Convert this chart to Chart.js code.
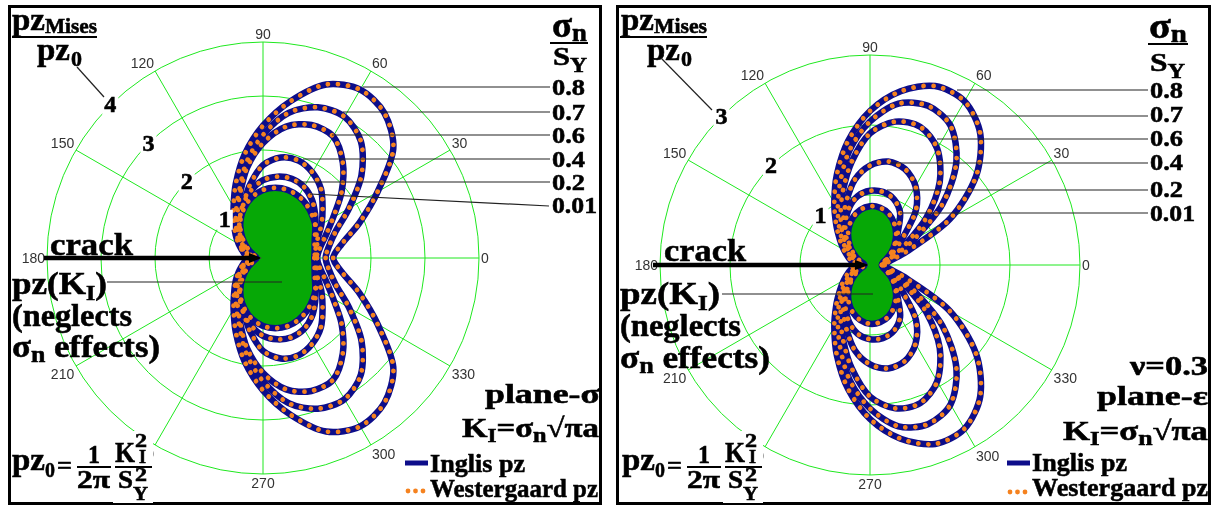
<!DOCTYPE html>
<html>
<head>
<meta charset="utf-8">
<script src="https://cdn.jsdelivr.net/npm/chart.js@4.4.1/dist/chart.umd.min.js"></script>
<style>
  body { margin: 0; background: #fff; }
  #page { position: relative; width: 1212px; height: 506px; overflow: hidden; background: #fff; }
  .box { position: absolute; border: 3px solid #000; box-sizing: content-box; }
  canvas { position: absolute; }
  svg.ann { position: absolute; left: 0; top: 0; }
  svg.ann text { font-family: 'Liberation Serif', 'Times New Roman', serif; font-weight: bold; fill: #000; stroke: #000; stroke-width: 0.55px; }
  svg.ann line.lead { stroke: #222; stroke-width: 1.2; }
</style>
</head>
<body>
<div id="page">
  <div class="box" style="left:8px;top:5px;width:588px;height:494px"></div>
  <div class="box" style="left:616px;top:5px;width:589px;height:494px"></div>
  <canvas id="planeStress" width="588" height="494" style="left:11px;top:8px"></canvas>
  <canvas id="planeStrain" width="589" height="494" style="left:619px;top:8px"></canvas>

  <svg class="ann" width="1212" height="506">
    <!-- ===== plane stress panel ===== -->
    <text x="12" y="30" font-size="32" textLength="33" lengthAdjust="spacingAndGlyphs">pz</text>
    <text x="45" y="33" font-size="20" textLength="52" lengthAdjust="spacingAndGlyphs">Mises</text>
    <line x1="12" y1="37" x2="97" y2="37" stroke="#000" stroke-width="2"/>
    <text x="37" y="60" font-size="32" textLength="33" lengthAdjust="spacingAndGlyphs">pz</text>
    <text x="71" y="66" font-size="22" textLength="11" lengthAdjust="spacingAndGlyphs">0</text>
    <line class="lead" x1="77" y1="67" x2="104" y2="97"/>

    <text x="552" y="37" font-size="36" textLength="35" lengthAdjust="spacingAndGlyphs">σ<tspan font-size="26" dy="4">n</tspan></text>
    <line x1="550" y1="43" x2="588" y2="43" stroke="#000" stroke-width="2"/>
    <text x="553" y="65" font-size="26" textLength="34" lengthAdjust="spacingAndGlyphs">S<tspan font-size="20" dy="7">Y</tspan></text>

    <line class="lead" x1="363" y1="87" x2="550" y2="87"/>
    <line class="lead" x1="343" y1="112" x2="550" y2="112"/>
    <line class="lead" x1="332" y1="135" x2="550" y2="135"/>
    <line class="lead" x1="303" y1="159" x2="550" y2="159"/>
    <line class="lead" x1="297" y1="182" x2="550" y2="182"/>
    <line class="lead" x1="310" y1="194" x2="549" y2="206"/>
    <text x="552" y="95" font-size="24" textLength="33" lengthAdjust="spacingAndGlyphs">0.8</text>
    <text x="552" y="120" font-size="24" textLength="33" lengthAdjust="spacingAndGlyphs">0.7</text>
    <text x="552" y="143" font-size="24" textLength="33" lengthAdjust="spacingAndGlyphs">0.6</text>
    <text x="552" y="167" font-size="24" textLength="33" lengthAdjust="spacingAndGlyphs">0.4</text>
    <text x="552" y="190" font-size="24" textLength="33" lengthAdjust="spacingAndGlyphs">0.2</text>
    <text x="552" y="213" font-size="24" textLength="45" lengthAdjust="spacingAndGlyphs">0.01</text>

    <text x="50" y="255" font-size="32" textLength="83" lengthAdjust="spacingAndGlyphs">crack</text>
    <line x1="44" y1="258" x2="252" y2="258" stroke="#000" stroke-width="4.5"/>
    <polygon points="249,253 262,258 249,263" fill="#000"/>
    <text x="12" y="294" font-size="31" textLength="95" lengthAdjust="spacingAndGlyphs">pz(K<tspan font-size="21" dy="6">I</tspan><tspan dy="-6">)</tspan></text>
    <line class="lead" x1="107" y1="282" x2="282" y2="282"/>
    <text x="12" y="326" font-size="31" textLength="120" lengthAdjust="spacingAndGlyphs">(neglects</text>
    <text x="12" y="357" font-size="31" textLength="148" lengthAdjust="spacingAndGlyphs">σ<tspan font-size="23" dy="5">n</tspan><tspan dy="-5"> effects)</tspan></text>

    <text x="485" y="403" font-size="27" textLength="115" lengthAdjust="spacingAndGlyphs">plane-σ</text>
    <text x="462" y="437" font-size="27" textLength="137" lengthAdjust="spacingAndGlyphs">K<tspan font-size="19" dy="5">I</tspan><tspan dy="-5">=σ</tspan><tspan font-size="20" dy="5">n</tspan><tspan dy="-5">√πa</tspan></text>
    <line x1="405" y1="463" x2="428" y2="463" stroke="#0d0d8a" stroke-width="5"/>
    <text x="430" y="472" font-size="26" textLength="95" lengthAdjust="spacingAndGlyphs">Inglis pz</text>
    <circle cx="408" cy="491" r="2.4" fill="#f5821f"/>
    <circle cx="415.5" cy="491" r="2.4" fill="#f5821f"/>
    <circle cx="423" cy="491" r="2.4" fill="#f5821f"/>
    <text x="430" y="497" font-size="26" textLength="168" lengthAdjust="spacingAndGlyphs">Westergaard pz</text>

    <rect x="113" y="431" width="40" height="72" fill="#fff"/>
    <text x="12" y="470" font-size="32" textLength="33" lengthAdjust="spacingAndGlyphs">pz</text>
    <text x="45" y="477" font-size="22" textLength="10" lengthAdjust="spacingAndGlyphs">0</text>
    <text x="57" y="474" font-size="26" textLength="15" lengthAdjust="spacingAndGlyphs">=</text>
    <text x="88" y="463" font-size="25" textLength="12" lengthAdjust="spacingAndGlyphs">1</text>
    <line x1="77" y1="467" x2="111" y2="467" stroke="#000" stroke-width="2"/>
    <text x="77" y="488" font-size="25" textLength="33" lengthAdjust="spacingAndGlyphs">2π</text>
    <text x="115" y="462" font-size="29" textLength="20" lengthAdjust="spacingAndGlyphs">K</text>
    <text x="135" y="447" font-size="18" textLength="12" lengthAdjust="spacingAndGlyphs">2</text>
    <text x="139" y="463" font-size="18" textLength="7" lengthAdjust="spacingAndGlyphs">I</text>
    <line x1="115" y1="467" x2="152" y2="467" stroke="#000" stroke-width="2"/>
    <text x="118" y="488" font-size="25" textLength="15" lengthAdjust="spacingAndGlyphs">S</text>
    <text x="135" y="481" font-size="18" textLength="12" lengthAdjust="spacingAndGlyphs">2</text>
    <text x="133" y="500" font-size="18" textLength="15" lengthAdjust="spacingAndGlyphs">Y</text>

    <!-- ===== plane strain panel ===== -->
    <text x="621" y="30" font-size="32" textLength="33" lengthAdjust="spacingAndGlyphs">pz</text>
    <text x="654" y="33" font-size="20" textLength="53" lengthAdjust="spacingAndGlyphs">Mises</text>
    <line x1="620" y1="37" x2="707" y2="37" stroke="#000" stroke-width="2"/>
    <text x="647" y="60" font-size="32" textLength="33" lengthAdjust="spacingAndGlyphs">pz</text>
    <text x="681" y="66" font-size="22" textLength="11" lengthAdjust="spacingAndGlyphs">0</text>
    <line class="lead" x1="661" y1="58" x2="712" y2="110"/>

    <text x="1149" y="38" font-size="36" textLength="38" lengthAdjust="spacingAndGlyphs">σ<tspan font-size="26" dy="4">n</tspan></text>
    <line x1="1148" y1="44" x2="1188" y2="44" stroke="#000" stroke-width="2"/>
    <text x="1150" y="71" font-size="26" textLength="35" lengthAdjust="spacingAndGlyphs">S<tspan font-size="20" dy="7">Y</tspan></text>

    <line class="lead" x1="957" y1="90" x2="1148" y2="90"/>
    <line class="lead" x1="947" y1="116" x2="1148" y2="116"/>
    <line class="lead" x1="937" y1="139" x2="1148" y2="139"/>
    <line class="lead" x1="890" y1="163" x2="1148" y2="163"/>
    <line class="lead" x1="887" y1="190" x2="1148" y2="190"/>
    <line class="lead" x1="900" y1="213" x2="1148" y2="213"/>
    <text x="1150" y="98" font-size="24" textLength="33" lengthAdjust="spacingAndGlyphs">0.8</text>
    <text x="1150" y="122" font-size="24" textLength="33" lengthAdjust="spacingAndGlyphs">0.7</text>
    <text x="1150" y="146" font-size="24" textLength="33" lengthAdjust="spacingAndGlyphs">0.6</text>
    <text x="1150" y="170" font-size="24" textLength="33" lengthAdjust="spacingAndGlyphs">0.4</text>
    <text x="1150" y="197" font-size="24" textLength="33" lengthAdjust="spacingAndGlyphs">0.2</text>
    <text x="1150" y="221" font-size="24" textLength="45" lengthAdjust="spacingAndGlyphs">0.01</text>

    <text x="664" y="261" font-size="32" textLength="82" lengthAdjust="spacingAndGlyphs">crack</text>
    <line x1="653" y1="265" x2="858" y2="265" stroke="#000" stroke-width="4.5"/>
    <polygon points="855,260 869,265 855,270" fill="#000"/>
    <text x="620" y="304" font-size="31" textLength="100" lengthAdjust="spacingAndGlyphs">pz(K<tspan font-size="21" dy="6">I</tspan><tspan dy="-6">)</tspan></text>
    <line class="lead" x1="722" y1="294" x2="873" y2="294"/>
    <text x="620" y="336" font-size="31" textLength="121" lengthAdjust="spacingAndGlyphs">(neglects</text>
    <text x="620" y="368" font-size="31" textLength="150" lengthAdjust="spacingAndGlyphs">σ<tspan font-size="23" dy="5">n</tspan><tspan dy="-5"> effects)</tspan></text>

    <text x="1130" y="375" font-size="27" textLength="78" lengthAdjust="spacingAndGlyphs">ν=0.3</text>
    <text x="1097" y="405" font-size="27" textLength="111" lengthAdjust="spacingAndGlyphs">plane-ε</text>
    <text x="1063" y="440" font-size="27" textLength="145" lengthAdjust="spacingAndGlyphs">K<tspan font-size="19" dy="5">I</tspan><tspan dy="-5">=σ</tspan><tspan font-size="20" dy="5">n</tspan><tspan dy="-5">√πa</tspan></text>
    <line x1="1007" y1="463" x2="1030" y2="463" stroke="#0d0d8a" stroke-width="5"/>
    <text x="1032" y="471" font-size="26" textLength="95" lengthAdjust="spacingAndGlyphs">Inglis pz</text>
    <circle cx="1010" cy="492" r="2.4" fill="#f5821f"/>
    <circle cx="1017.5" cy="492" r="2.4" fill="#f5821f"/>
    <circle cx="1025" cy="492" r="2.4" fill="#f5821f"/>
    <text x="1032" y="496" font-size="26" textLength="176" lengthAdjust="spacingAndGlyphs">Westergaard pz</text>

    <rect x="723" y="431" width="40" height="72" fill="#fff"/>
    <text x="622" y="470" font-size="32" textLength="33" lengthAdjust="spacingAndGlyphs">pz</text>
    <text x="655" y="477" font-size="22" textLength="10" lengthAdjust="spacingAndGlyphs">0</text>
    <text x="667" y="474" font-size="26" textLength="15" lengthAdjust="spacingAndGlyphs">=</text>
    <text x="698" y="463" font-size="25" textLength="12" lengthAdjust="spacingAndGlyphs">1</text>
    <line x1="687" y1="467" x2="721" y2="467" stroke="#000" stroke-width="2"/>
    <text x="687" y="488" font-size="25" textLength="33" lengthAdjust="spacingAndGlyphs">2π</text>
    <text x="725" y="462" font-size="29" textLength="20" lengthAdjust="spacingAndGlyphs">K</text>
    <text x="745" y="447" font-size="18" textLength="12" lengthAdjust="spacingAndGlyphs">2</text>
    <text x="749" y="463" font-size="18" textLength="7" lengthAdjust="spacingAndGlyphs">I</text>
    <line x1="725" y1="467" x2="762" y2="467" stroke="#000" stroke-width="2"/>
    <text x="728" y="488" font-size="25" textLength="15" lengthAdjust="spacingAndGlyphs">S</text>
    <text x="745" y="481" font-size="18" textLength="12" lengthAdjust="spacingAndGlyphs">2</text>
    <text x="743" y="500" font-size="18" textLength="15" lengthAdjust="spacingAndGlyphs">Y</text>
  </svg>
</div>

<script>
// Polar angles (degrees, counter-clockwise from the crack plane ahead of the tip)
const ANGLES = [0, 10, 20, 30, 40, 50, 60, 70, 80, 90, 100, 110, 120, 130, 140, 150, 160, 170,
                180, 190, 200, 210, 220, 230, 240, 250, 260, 270, 280, 290, 300, 310, 320, 330, 340, 350];

// Ring values of the normalised plastic-zone radius pz/pz0
const STRESS_RINGS = [1, 2, 3, 4];
const STRAIN_RINGS = [1, 2, 3];

// sigma_n / S_Y levels of the plotted zones
const LEVELS = ['0.01', '0.2', '0.4', '0.6', '0.7', '0.8'];

// ---- plane stress: pz/pz0 at each angle in ANGLES ----
const stressKI = [1.00, 1.02, 1.06, 1.12, 1.19, 1.26, 1.31, 1.33, 1.31, 1.25, 1.14, 0.99, 0.81, 0.62, 0.43, 0.25, 0.12, 0.03, 0.00,
                  0.03, 0.12, 0.25, 0.43, 0.62, 0.81, 0.99, 1.14, 1.25, 1.31, 1.33, 1.31, 1.26, 1.19, 1.12, 1.06, 1.02];
const stress001 = [1.00, 1.02, 1.06, 1.13, 1.20, 1.27, 1.32, 1.34, 1.32, 1.26, 1.15, 1.00, 0.83, 0.64, 0.46, 0.31, 0.20, 0.14, 0.12,
                   0.14, 0.20, 0.31, 0.46, 0.64, 0.83, 1.00, 1.15, 1.26, 1.32, 1.34, 1.32, 1.27, 1.20, 1.13, 1.06, 1.02];
const stress02 = [0.96, 0.97, 1.02, 1.12, 1.26, 1.41, 1.52, 1.56, 1.53, 1.44, 1.27, 1.07, 0.86, 0.66, 0.49, 0.37, 0.28, 0.22, 0.20,
                  0.22, 0.28, 0.37, 0.49, 0.66, 0.86, 1.07, 1.27, 1.44, 1.53, 1.56, 1.52, 1.41, 1.26, 1.12, 1.02, 0.97];
const stress04 = [0.95, 0.99, 1.08, 1.25, 1.44, 1.67, 1.83, 1.92, 1.89, 1.72, 1.38, 1.06, 0.86, 0.68, 0.53, 0.42, 0.33, 0.28, 0.26,
                  0.28, 0.33, 0.42, 0.53, 0.68, 0.86, 1.06, 1.38, 1.72, 1.89, 1.92, 1.83, 1.67, 1.44, 1.25, 1.08, 0.99];
const stress06 = [1.00, 1.07, 1.24, 1.50, 1.90, 2.30, 2.60, 2.62, 2.47, 2.13, 1.70, 1.25, 0.95, 0.74, 0.58, 0.46, 0.37, 0.31, 0.28,
                  0.31, 0.37, 0.46, 0.58, 0.74, 0.95, 1.25, 1.70, 2.13, 2.47, 2.62, 2.60, 2.30, 1.90, 1.50, 1.24, 1.07];
const stress07 = [1.16, 1.24, 1.43, 1.84, 2.38, 2.82, 3.02, 2.97, 2.73, 2.28, 1.79, 1.30, 1.00, 0.78, 0.62, 0.49, 0.39, 0.33, 0.30,
                  0.33, 0.39, 0.49, 0.62, 0.78, 1.00, 1.30, 1.79, 2.28, 2.73, 2.97, 3.02, 2.82, 2.38, 1.84, 1.43, 1.24];
const stress08 = [1.30, 1.48, 1.90, 2.45, 3.15, 3.50, 3.60, 3.42, 2.95, 2.45, 1.95, 1.47, 1.09, 0.83, 0.66, 0.52, 0.41, 0.34, 0.31,
                  0.34, 0.41, 0.52, 0.66, 0.83, 1.09, 1.47, 1.95, 2.45, 2.95, 3.42, 3.60, 3.50, 3.15, 2.45, 1.90, 1.48];

// ---- plane strain (nu = 0.3): pz/pz0 at each angle in ANGLES ----
const strainKI = [0.16, 0.18, 0.24, 0.34, 0.45, 0.57, 0.68, 0.77, 0.82, 0.83, 0.79, 0.72, 0.60, 0.47, 0.33, 0.20, 0.09, 0.02, 0.00,
                  0.02, 0.09, 0.20, 0.33, 0.47, 0.60, 0.72, 0.79, 0.83, 0.82, 0.77, 0.68, 0.57, 0.45, 0.34, 0.24, 0.18];
const strain001 = [0.17, 0.19, 0.25, 0.35, 0.46, 0.58, 0.69, 0.78, 0.83, 0.84, 0.80, 0.72, 0.61, 0.48, 0.35, 0.23, 0.14, 0.09, 0.08,
                   0.09, 0.14, 0.23, 0.35, 0.48, 0.61, 0.72, 0.80, 0.84, 0.83, 0.78, 0.69, 0.58, 0.46, 0.35, 0.25, 0.19];
const strain02 = [0.17, 0.19, 0.26, 0.36, 0.48, 0.62, 0.86, 1.00, 1.06, 1.06, 1.00, 0.87, 0.70, 0.53, 0.38, 0.27, 0.19, 0.14, 0.12,
                  0.14, 0.19, 0.27, 0.38, 0.53, 0.70, 0.87, 1.00, 1.06, 1.06, 1.00, 0.86, 0.62, 0.48, 0.36, 0.26, 0.19];
const strain04 = [0.18, 0.20, 0.28, 0.40, 0.62, 1.02, 1.30, 1.46, 1.50, 1.42, 1.24, 0.98, 0.76, 0.57, 0.41, 0.30, 0.22, 0.17, 0.15,
                  0.17, 0.22, 0.30, 0.41, 0.57, 0.76, 0.98, 1.24, 1.42, 1.50, 1.46, 1.30, 1.02, 0.62, 0.40, 0.28, 0.20];
const strain06 = [0.19, 0.22, 0.33, 0.58, 1.05, 1.55, 1.92, 2.10, 2.08, 1.88, 1.50, 1.13, 0.84, 0.62, 0.45, 0.33, 0.25, 0.20, 0.17,
                  0.20, 0.25, 0.33, 0.45, 0.62, 0.84, 1.13, 1.50, 1.88, 2.08, 2.10, 1.92, 1.55, 1.05, 0.58, 0.33, 0.22];
const strain07 = [0.20, 0.24, 0.37, 0.72, 1.35, 1.92, 2.30, 2.42, 2.34, 2.05, 1.67, 1.25, 0.92, 0.68, 0.50, 0.37, 0.28, 0.22, 0.19,
                  0.22, 0.28, 0.37, 0.50, 0.68, 0.92, 1.25, 1.67, 2.05, 2.34, 2.42, 2.30, 1.92, 1.35, 0.72, 0.37, 0.24];
const strain08 = [0.21, 0.27, 0.55, 1.32, 1.98, 2.45, 2.70, 2.72, 2.52, 2.20, 1.80, 1.38, 1.02, 0.75, 0.56, 0.43, 0.33, 0.26, 0.23,
                  0.26, 0.33, 0.43, 0.56, 0.75, 1.02, 1.38, 1.80, 2.20, 2.52, 2.72, 2.70, 2.45, 1.98, 1.32, 0.55, 0.27];

const GRID_GREEN = '#1fe81f';
const ZONE_GREEN = '#06a806';
const INGLIS_BLUE = '#0d0d8a';
const WESTERGAARD_ORANGE = '#f5821f';

// Radar charts walk clockwise from their start angle; reorder so that
// the angles run counter-clockwise from 0 deg at the right.
const ORDER = ANGLES.map((_, i) => (ANGLES.length - i) % ANGLES.length);
const pick = arr => ORDER.map(k => arr[k]);

// Angle numbers every 30 deg and ring values along the 135 deg direction
function polarLabels(rings) {
  return {
    id: 'polarLabels',
    afterDatasetsDraw(chart) {
      const s = chart.scales.r;
      const ctx = chart.ctx;
      ctx.save();
      ctx.font = '14px "Liberation Sans", Arial, sans-serif';
      ctx.fillStyle = '#333';
      ctx.textBaseline = 'alphabetic';
      chart.data.labels.forEach((lab, i) => {
        const a = Number(lab);
        if (a % 30 !== 0) return;
        const p = s.getPointPosition(i, s.drawingArea + 2);
        ctx.textAlign = (a === 90 || a === 270) ? 'center' : (a > 90 && a < 270 ? 'right' : 'left');
        let y;
        if (a === 0 || a === 180) y = p.y + 5;
        else if (a < 180) y = p.y - 1;
        else y = p.y + 12;
        ctx.fillText(lab, p.x, y);
      });
      ctx.font = 'bold 24px "Liberation Serif", "Times New Roman", serif';
      ctx.textAlign = 'center';
      ctx.textBaseline = 'middle';
      ctx.lineWidth = 0.6;
      ctx.strokeStyle = '#000';
      rings.forEach(v => {
        const d = s.getDistanceFromCenterForValue(v);
        const x = s.xCenter - d * Math.SQRT1_2;
        const y = s.yCenter - d * Math.SQRT1_2;
        ctx.fillStyle = '#fff';
        ctx.fillRect(x - 8, y - 10, 16, 20);
        ctx.fillStyle = '#000';
        ctx.fillText(String(v), x, y + 1);
        ctx.strokeText(String(v), x, y + 1);
      });
      ctx.restore();
    }
  };
}

function buildPanel(id, padding, rMax, rings, kiZone, zones) {
  const datasets = [{
    label: 'pz(KI)',
    data: pick(kiZone),
    fill: 'origin',
    backgroundColor: ZONE_GREEN,
    borderWidth: 0,
    borderColor: 'rgba(0,0,0,0)',
    pointRadius: 0,
    tension: 0.3,
    order: 3
  }];
  zones.forEach((z, k) => datasets.push({
    label: 'Inglis pz ' + LEVELS[k],
    data: pick(z),
    fill: false,
    borderColor: INGLIS_BLUE,
    borderWidth: 6.5,
    pointRadius: 0,
    tension: 0.3,
    order: 2
  }));
  zones.forEach((z, k) => datasets.push({
    label: 'Westergaard pz ' + LEVELS[k],
    data: pick(z),
    fill: false,
    borderColor: WESTERGAARD_ORANGE,
    borderWidth: 4.8,
    borderDash: [0.01, 10],
    borderCapStyle: 'round',
    pointRadius: 0,
    tension: 0.3,
    order: 1
  }));

  new Chart(document.getElementById(id), {
    type: 'radar',
    data: { labels: ORDER.map(k => String(ANGLES[k])), datasets },
    options: {
      responsive: false,
      maintainAspectRatio: false,
      animation: false,
      events: [],
      layout: { padding },
      plugins: { legend: { display: false }, tooltip: { enabled: false } },
      scales: {
        r: {
          min: 0,
          max: rMax,
          startAngle: 90,
          ticks: { display: false, stepSize: 1 },
          pointLabels: { display: false },
          grid: { circular: true, color: GRID_GREEN, lineWidth: 1 },
          angleLines: {
            display: true,
            color: GRID_GREEN,
            lineWidth: c => (c.index % 3 === 0 ? 1 : 0)
          }
        }
      }
    },
    plugins: [polarLabels(rings)]
  });
}

buildPanel('planeStress', { left: 36, right: 120, top: 34, bottom: 28 }, 4, STRESS_RINGS, stressKI,
  [stress001, stress02, stress04, stress06, stress07, stress08]);
buildPanel('planeStrain', { left: 41, right: 128, top: 47, bottom: 27 }, 3, STRAIN_RINGS, strainKI,
  [strain001, strain02, strain04, strain06, strain07, strain08]);
</script>
</body>
</html>
